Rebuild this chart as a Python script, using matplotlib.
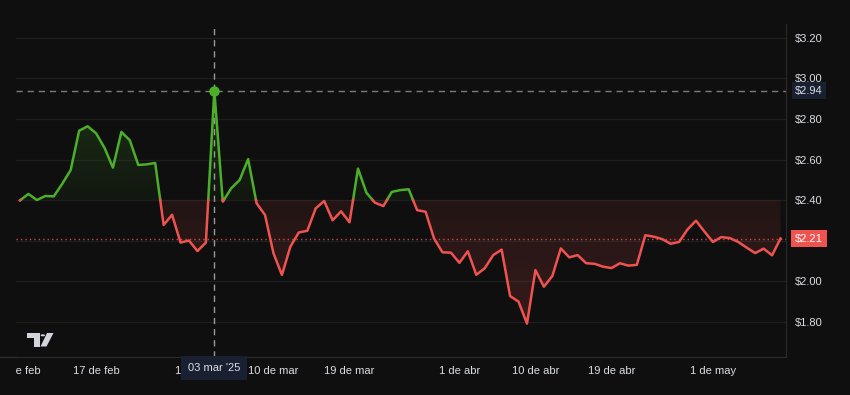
import matplotlib
matplotlib.use("Agg")
from matplotlib import pyplot as plt
import matplotlib.dates as mdates
from matplotlib.lines import Line2D
from matplotlib.patches import Polygon, Circle
from matplotlib.path import Path
from matplotlib.transforms import Bbox, TransformedBbox, blended_transform_factory
import numpy as np
import pandas as pd

# daily close, 8 feb 2025 -> 9 may 2025
prices = [
    2.398, 2.43, 2.40, 2.42, 2.418, 2.48, 2.548, 2.742, 2.764, 2.73,
    2.658, 2.56, 2.736, 2.695, 2.573, 2.576, 2.583, 2.277, 2.327, 2.19,
    2.20, 2.148, 2.19, 2.94, 2.392, 2.458, 2.499, 2.602, 2.384, 2.326,
    2.137, 2.03, 2.17, 2.24, 2.248, 2.359, 2.395, 2.30, 2.344, 2.29,
    2.555, 2.436, 2.387, 2.37, 2.44, 2.449, 2.453, 2.35, 2.342, 2.21,
    2.142, 2.14, 2.09, 2.147, 2.031, 2.063, 2.128, 2.155, 1.926, 1.898,
    1.79, 2.054, 1.972, 2.025, 2.161, 2.117, 2.128, 2.088, 2.085, 2.071,
    2.064, 2.088, 2.076, 2.08, 2.226, 2.219, 2.207, 2.184, 2.193, 2.255,
    2.298, 2.244, 2.193, 2.217, 2.212, 2.193, 2.165, 2.138, 2.16, 2.127,
    2.21,
]
start_date = "2025-02-08"
baseline = 2.40
high_price = 2.94
last_price = 2.21
crosshair_date = "2025-03-03"
crosshair_label = "03 mar '25"

tick_dates = ["2025-02-08", "2025-02-17", "2025-03-01", "2025-03-10", "2025-03-19",
              "2025-04-01", "2025-04-10", "2025-04-19", "2025-05-01"]
tick_labels = ["8 de feb", "17 de feb", "1 de mar", "10 de mar", "19 de mar",
               "1 de abr", "10 de abr", "19 de abr", "1 de may"]
price_ticks = [1.80, 2.00, 2.20, 2.40, 2.60, 2.80, 3.00, 3.20]

bg = "#0f0f0f"
grid_c = "#1e1e1e"
green = "#4caf2a"
red = "#ef5350"
text_c = "#dadde3"
W, H = 850, 395

plt.rcParams["font.family"] = ["Liberation Sans", "DejaVu Sans"]


def split_at_base(x, y, base):
    xs, ys = [x[0]], [y[0]]
    for i in range(1, len(x)):
        if (y[i - 1] - base) * (y[i] - base) < 0:
            t = (base - y[i - 1]) / (y[i] - y[i - 1])
            xs.append(x[i - 1] + t * (x[i] - x[i - 1]))
            ys.append(base)
        xs.append(x[i])
        ys.append(y[i])
    return np.array(xs), np.array(ys)


def gradient_fill(ax, poly, color, a_low, a_high, y_low, y_high, x0, x1):
    path = Path.make_compound_path(*poly.get_paths())
    rgb = matplotlib.colors.to_rgb(color)
    grad = np.zeros((256, 1, 4))
    grad[:, 0, :3] = rgb
    grad[:, 0, 3] = np.linspace(a_low, a_high, 256)
    im = ax.imshow(grad, aspect="auto", extent=[x0, x1, y_low, y_high],
                   origin="lower", zorder=1, interpolation="bilinear")
    im.set_clip_path(path, transform=ax.transData)
    poly.remove()


dates = pd.date_range(start_date, periods=len(prices), freq="D")
x = mdates.date2num(dates)
y = np.array(prices)

fig = plt.figure(figsize=(W / 100, H / 100), dpi=100, facecolor=bg)
ax = fig.add_axes([16 / W, 38 / H, 770 / W, 333 / H])
ax.set_facecolor(bg)

x_lo, x_hi = x[0] - 0.47, x[0] + 90.65
y_lo, y_hi = 1.625, 3.269

# grid
for p in price_ticks:
    ax.axhline(p, color=grid_c, lw=1, zorder=0)

# gradient fills
top = ax.fill_between(x, y, baseline, where=y >= baseline, interpolate=True)
gradient_fill(ax, top, green, 0.05, 0.22, baseline, y.max(), x_lo, x_hi)
bot = ax.fill_between(x, y, baseline, where=y <= baseline, interpolate=True)
gradient_fill(ax, bot, red, 0.18, 0.09, y.min(), baseline, x_lo, x_hi)

# line coloured by side of baseline
xs, ys = split_at_base(x, y, baseline)
ax.plot(xs, np.ma.masked_where(ys < baseline, ys), color=green, lw=1.8, zorder=4,
        solid_joinstyle="round")
ax.plot(xs, np.ma.masked_where(ys > baseline, ys), color=red, lw=1.8, zorder=4,
        solid_joinstyle="round")

# high / last price lines
ax.axhline(high_price, color="#7c7c7c", lw=1, ls=(0, (4.5, 3.5)), zorder=3)
ax.axhline(last_price, color=red, lw=1, ls=(0, (1, 2.2)), alpha=0.85, zorder=3)

# crosshair
xc = mdates.date2num(pd.Timestamp(crosshair_date))
ax.axvline(xc, color="#9a9a9a", lw=1, ls=(0, (4.5, 3.5)), zorder=3)
i_high = int(np.argmax(y))
ax.plot(x[i_high], y[i_high], "o", color=green, ms=6.5, zorder=5)

ax.set_xlim(x_lo, x_hi)
ax.set_ylim(y_lo, y_hi)

# axes styling
for s in ["top", "left"]:
    ax.spines[s].set_visible(False)
for s in ["right", "bottom"]:
    ax.spines[s].set_color("#2a2a2a")
fig.add_artist(Line2D([0, 16 / W], [38 / H, 38 / H], color="#2a2a2a", lw=1))

# $2.20 sits under the last price tag, so it is left blank
ax.yaxis.tick_right()
ax.set_yticks(price_ticks)
ax.set_yticklabels(["" if abs(p - last_price) < 0.05 else f"${p:.2f}" for p in price_ticks])
ax.tick_params(axis="y", length=0, pad=6.5, labelsize=8, labelcolor=text_c)
for lab in ax.get_yticklabels():
    lab.set_horizontalalignment("left")

ax.set_xticks(mdates.date2num(pd.to_datetime(tick_dates)))
ax.set_xticklabels(tick_labels)
ax.tick_params(axis="x", length=0, pad=6.5, labelsize=8, labelcolor=text_c)
clip = TransformedBbox(Bbox([[16 / W, 0], [1, 1]]), fig.transFigure)
for lab in ax.get_xticklabels():
    lab.set_clip_box(clip)
    lab.set_clip_on(True)

# price labels on the axis
trans = blended_transform_factory(ax.transAxes, ax.transData)
ax.annotate(f"${high_price:.2f}", xy=(1, high_price), xycoords=trans,
            xytext=(6.5, 0), textcoords="offset points", ha="left", va="center",
            fontsize=8, color=text_c, zorder=10, annotation_clip=False,
            bbox=dict(boxstyle="square,pad=0.3", fc="#182031", ec="none"))
ax.annotate(f"${last_price:.2f}", xy=(1, last_price), xycoords=trans,
            xytext=(6.5, 0), textcoords="offset points", ha="left", va="center",
            fontsize=8, color="white", zorder=10, annotation_clip=False,
            bbox=dict(boxstyle="square,pad=0.35", fc=red, ec="none"))

# crosshair date label
transx = blended_transform_factory(ax.transData, ax.transAxes)
ax.annotate(crosshair_label, xy=(xc, 0), xycoords=transx, xytext=(0, -8),
            textcoords="offset points", ha="center", va="center", fontsize=8,
            color=text_c, zorder=10, annotation_clip=False,
            bbox=dict(boxstyle="square,pad=0.6", fc="#182031", ec="none"))


# tradingview logo
def px(a, b):
    return (a / W, 1 - b / H)


logo_c = "#d1d4dc"
fig.add_artist(Polygon([px(27, 333), px(39.5, 333), px(39.5, 346.5), px(33.5, 346.5),
                        px(33.5, 337.5), px(27, 337.5)], closed=True, fc=logo_c, ec="none"))
fig.add_artist(Circle(px(42.8, 335.3), 2.2 / W, fc=logo_c, ec="none"))
fig.add_artist(Polygon([px(47, 333), px(53.5, 333), px(46.5, 346.5), px(40.5, 346.5)],
                       closed=True, fc=logo_c, ec="none"))

fig.savefig("out.png", dpi=100, facecolor=bg)
